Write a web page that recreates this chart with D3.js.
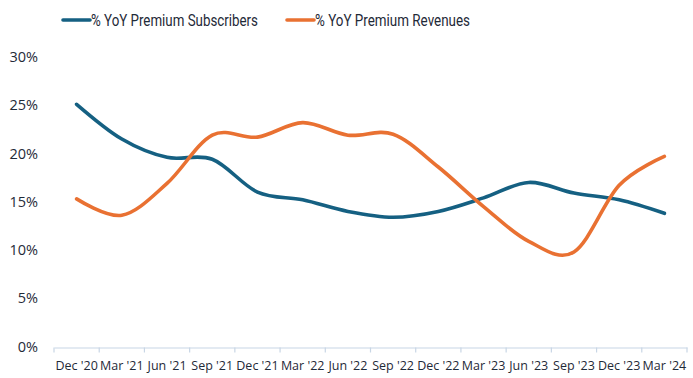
<!DOCTYPE html>
<html>
<head>
<meta charset="utf-8">
<script src="https://cdn.jsdelivr.net/npm/d3@7"></script>
<style>
  html, body { margin: 0; padding: 0; background: #ffffff; }
  svg { display: block; }
</style>
</head>
<body>
<svg id="chart" width="693" height="378"></svg>
<script>
const categories = ["Dec '20", "Mar '21", "Jun '21", "Sep '21", "Dec '21", "Mar '22", "Jun '22",
                    "Sep '22", "Dec '22", "Mar '23", "Jun '23", "Sep '23", "Dec '23", "Mar '24"];
const subscribers = [25.1, 21.5, 19.6, 19.4, 16.0, 15.2, 14.0, 13.4, 14.0, 15.4, 17.0, 15.9, 15.2, 13.8];
const revenues    = [15.3, 13.6, 16.9, 21.9, 21.7, 23.2, 21.9, 22.0, 18.6, 14.5, 10.9, 9.8, 16.7, 19.7];
const yTicks = [0, 5, 10, 15, 20, 25, 30];
const seriesNames = ["% YoY Premium Subscribers", "% YoY Premium Revenues"];
const seriesColors = ["#156082", "#E97132"];

const svg = d3.select("#chart");
const textColor = "#1f2a38";

const x = d3.scaleBand().domain(categories).range([54, 687]);
const y = d3.scaleLinear().domain([0, 30]).range([346.5, 57]);

// Y axis labels
const yAxis = d3.axisLeft(y).tickValues(yTicks).tickFormat(d => d + "%").tickSize(0).tickPadding(0);
const yg = svg.append("g").attr("transform", "translate(38,0)").call(yAxis);
yg.select(".domain").remove();
yg.selectAll("text")
  .attr("fill", textColor)
  .style("font-family", "'Open Sans', 'Liberation Sans', sans-serif")
  .style("font-size", "14.5px");

// X axis
const xAxis = d3.axisBottom(x).tickSizeInner(0).tickSizeOuter(0).tickPadding(14);
const xg = svg.append("g").attr("transform", "translate(0,347.5)").call(xAxis);
xg.select(".domain").attr("stroke", "#c8d6e5").attr("stroke-width", 1.2);
xg.selectAll(".tick line").remove();
xg.selectAll("text")
  .attr("fill", textColor)
  .style("font-family", "'Open Sans', 'Liberation Sans', sans-serif")
  .style("font-size", "12.5px");
// category boundary ticks
const bounds = categories.map(c => x(c)).concat([x.range()[1]]);
xg.selectAll(".bound").data(bounds).enter().append("line")
  .attr("class", "bound")
  .attr("x1", d => d).attr("x2", d => d)
  .attr("y1", 0).attr("y2", 5)
  .attr("stroke", "#c8d6e5").attr("stroke-width", 1.2);

// Lines
const line = d3.line()
  .x((d, i) => x(categories[i]) + x.bandwidth() / 2)
  .y(d => y(d))
  .curve(d3.curveCatmullRom.alpha(0));

[subscribers, revenues].forEach((s, k) => {
  svg.append("path")
    .datum(s)
    .attr("d", line)
    .attr("fill", "none")
    .attr("stroke", seriesColors[k])
    .attr("stroke-width", 3.6)
    .attr("stroke-linecap", "round")
    .attr("stroke-linejoin", "round");
});

// Legend
const legendX = [63, 287];
const legendW = [167, 155];
const legend = svg.append("g");
seriesNames.forEach((name, k) => {
  const g = legend.append("g").attr("transform", `translate(${legendX[k]},20)`);
  g.append("line").attr("x1", 0).attr("x2", 27).attr("y1", 0).attr("y2", 0)
    .attr("stroke", seriesColors[k]).attr("stroke-width", 3.6).attr("stroke-linecap", "round");
  g.append("text").attr("x", 28).attr("y", 0).attr("dy", "0.35em")
    .attr("fill", textColor)
    .attr("textLength", legendW[k])
    .attr("lengthAdjust", "spacingAndGlyphs")
    .style("font-family", "Roboto, 'Open Sans', sans-serif")
    .style("font-size", "17px")
    .text(name);
});
</script>
</body>
</html>
